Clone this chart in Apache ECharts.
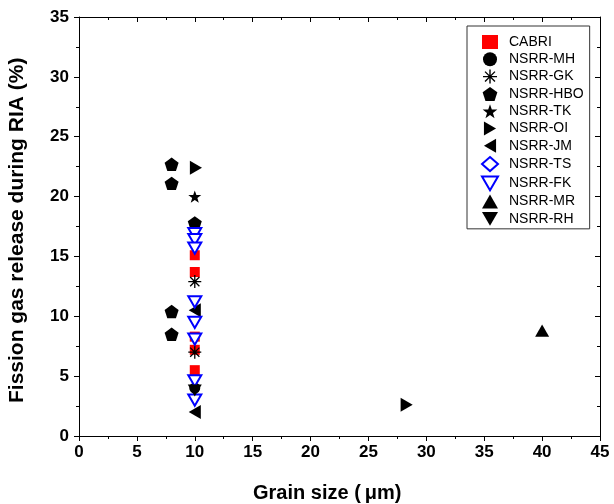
<!DOCTYPE html>
<html><head><meta charset="utf-8">
<script src="https://cdn.jsdelivr.net/npm/echarts@6/dist/echarts.min.js"></script>
<style>html,body{margin:0;padding:0;background:#fff}#c{width:614px;height:504px}</style>
</head><body><div id="c"></div>
<script>
// ---- data ----
const seriesNames = ["CABRI","NSRR-MH","NSRR-GK","NSRR-HBO","NSRR-TK","NSRR-OI","NSRR-JM","NSRR-TS","NSRR-FK","NSRR-MR","NSRR-RH"];
const cabriX = [10,10,10,10,10];          const cabriY = [15.1,13.7,8.3,7.2,5.5];
const mhX = [10];                         const mhY = [4.0];
const gkX = [10,10];                      const gkY = [12.9,7.0];
const hboX = [8,8,8,8,10];                const hboY = [22.7,21.1,10.4,8.5,17.8];
const tkX = [10];                         const tkY = [20.0];
const oiX = [10.1,28.3];                  const oiY = [22.4,2.6];
const jmX = [10,10];                      const jmY = [10.5,2.0];
const tsX = [];                           const tsY = [];
const fkX = [10,10,10,10,10,10,10,10];    const fkY = [16.9,16.4,15.7,11.2,9.5,8.1,4.6,3.0];
const mrX = [40];                         const mrY = [8.8];
const rhX = [10];                         const rhY = [3.8];
const xTicks = [0,5,10,15,20,25,30,35,40,45];
const yTicks = [0,5,10,15,20,25,30,35];
const xTitle = 'Grain size (\u2009\u03bcm)';
const yTitle = 'Fission gas release during RIA (%)';

const zip = (xs, ys) => xs.map((x, i) => [x, ys[i]]);

// symbols
function poly(n, r, rot) {
  let p = [];
  for (let i = 0; i < n; i++) {
    const a = rot + i * 2 * Math.PI / n;
    p.push((Math.cos(a) * r).toFixed(3) + ',' + (Math.sin(a) * r).toFixed(3));
  }
  return 'path://M' + p.join('L') + 'Z';
}
function star() {
  let p = [];
  for (let i = 0; i < 10; i++) {
    const r = i % 2 ? 4 : 10;
    const a = -Math.PI / 2 + i * Math.PI / 5;
    p.push((Math.cos(a) * r).toFixed(3) + ',' + (Math.sin(a) * r).toFixed(3));
  }
  return 'path://M' + p.join('L') + 'Z';
}
const pentagon = poly(5, 10, -Math.PI / 2);
const starSym = star();
const asterisk = 'path://M-1,-10L1,-10L1,10L-1,10Z M-10,-1L10,-1L10,1L-10,1Z M-7.8,-6.4L-6.4,-7.8L7.8,6.4L6.4,7.8Z M6.4,-7.8L7.8,-6.4L-6.4,7.8L-7.8,6.4Z';
const triUp = 'path://M0,-9L10,8.3L-10,8.3Z';
const triDown = 'path://M-10,-8.3L10,-8.3L0,9Z';
const triLeft = 'path://M-9,0L8.3,-10L8.3,10Z';
const triRight = 'path://M9,0L-8.3,-10L-8.3,10Z';

const styles = [
  {symbol: 'rect', size: 10, color: '#ff0000'},
  {symbol: 'circle', size: 11, color: '#000'},
  {symbol: asterisk, size: 13, color: '#000'},
  {symbol: pentagon, size: 14, color: '#000'},
  {symbol: starSym, size: 13, color: '#000'},
  {symbol: triRight, size: 14, color: '#000'},
  {symbol: triLeft, size: 14, color: '#000'},
  {symbol: 'diamond', size: 12, color: '#fff', border: '#0000ff'},
  {symbol: triDown, size: 13, color: '#fff', border: '#0000ff'},
  {symbol: triUp, size: 14, color: '#000'},
  {symbol: triDown, size: 14, color: '#000'}
];
const datas = [zip(cabriX,cabriY), zip(mhX,mhY), zip(gkX,gkY), zip(hboX,hboY), zip(tkX,tkY), zip(oiX,oiY), zip(jmX,jmY), zip(tsX,tsY), zip(fkX,fkY), zip(mrX,mrY), zip(rhX,rhY)];

const series = seriesNames.map((n, i) => {
  const s = styles[i];
  return {
    name: n, type: 'scatter', data: datas[i], symbol: s.symbol, symbolSize: s.size,
    symbolKeepAspect: true,
    itemStyle: {color: s.color, borderColor: s.border || s.color, borderWidth: s.border ? 2 : 0, opacity: 1},
    emphasis: {disabled: true}, z: 3 + i, xAxisIndex: 0, yAxisIndex: 0
  };
});

const legendData = seriesNames.map((n, i) => ({name: n, icon: styles[i].symbol}));

const font = 'Liberation Sans, Arial, sans-serif';
const chart = echarts.init(document.getElementById('c'), null, {renderer: 'canvas'});
const axLine = {show: true, onZero: false, lineStyle: {color: '#000', width: 1}};
chart.setOption({
  animation: false,
  backgroundColor: '#fff',
  grid: {left: 79, right: 14, top: 17, bottom: 68, show: false},
  legend: {
    orient: 'vertical', left: 467, top: 26, width: 124, height: 202,
    padding: [9, 6, 3, 14], itemGap: 3.3, itemWidth: 16, itemHeight: 14,
    borderColor: '#333', borderWidth: 1, backgroundColor: '#fff',
    symbolKeepAspect: true,
    textStyle: {fontFamily: font, fontSize: 14, color: '#000', padding: [0,0,0,6]},
    data: legendData, selectedMode: false
  },
  graphic: [
    {type: 'text', left: 253, top: 483, style: {text: xTitle, font: 'bold 20px ' + font, fill: '#000'}},
    {type: 'text', x: 7, y: 403, rotation: Math.PI / 2,
     style: {text: yTitle, font: 'bold 21px ' + font, fill: '#000', textAlign: 'left', textVerticalAlign: 'top'}}
  ],
  xAxis: [
    {type: 'value', min: 0, max: 45, interval: 5, position: 'bottom',
     axisLine: axLine, axisTick: {show: true, inside: false, length: 5, lineStyle: {color: '#000'}},
     minorTick: {show: true, splitNumber: 2, length: 3, lineStyle: {color: '#000'}},
     splitLine: {show: false},
     axisLabel: {fontFamily: font, fontWeight: 'bold', fontSize: 17, color: '#000', margin: 8,
       formatter: v => xTicks.includes(v) ? String(v) : ''}},
    {type: 'value', min: 0, max: 45, interval: 5, position: 'top',
     axisLine: axLine, axisTick: {show: true, inside: true, length: 5, lineStyle: {color: '#000'}},
     minorTick: {show: true, splitNumber: 2, length: 3, lineStyle: {color: '#000'}},
     splitLine: {show: false}, axisLabel: {show: false}}
  ],
  yAxis: [
    {type: 'value', min: 0, max: 35, interval: 5, position: 'left',
     axisLine: axLine, axisTick: {show: true, inside: false, length: 5, lineStyle: {color: '#000'}},
     minorTick: {show: true, splitNumber: 2, length: 3, lineStyle: {color: '#000'}},
     splitLine: {show: false},
     axisLabel: {fontFamily: font, fontWeight: 'bold', fontSize: 17, color: '#000', margin: 10,
       formatter: v => yTicks.includes(v) ? String(v) : ''}},
    {type: 'value', min: 0, max: 35, interval: 5, position: 'right',
     axisLine: axLine, axisTick: {show: true, inside: true, length: 5, lineStyle: {color: '#000'}},
     minorTick: {show: true, splitNumber: 2, length: 3, lineStyle: {color: '#000'}},
     splitLine: {show: false}, axisLabel: {show: false}}
  ],
  series: series
});
</script></body></html>
